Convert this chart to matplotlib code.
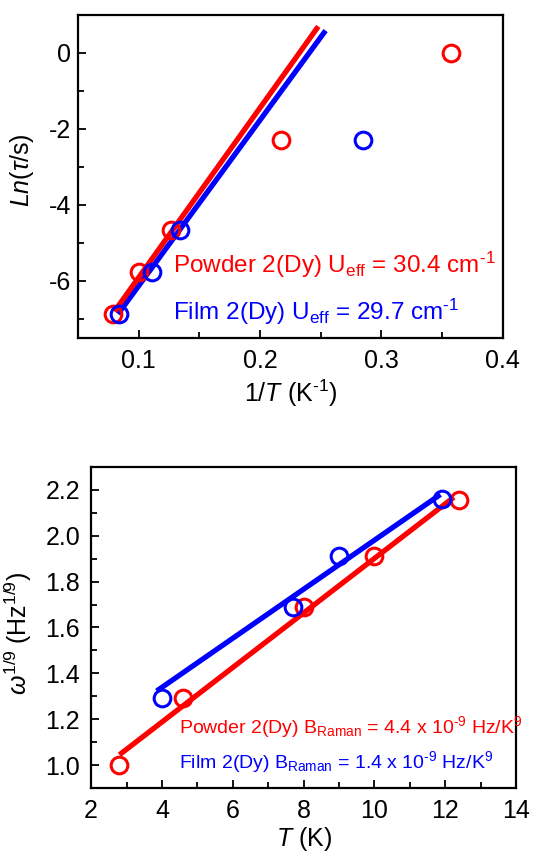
import matplotlib.pyplot as plt
from matplotlib.ticker import MultipleLocator

plt.rcParams['font.family'] = ['Liberation Sans', 'DejaVu Sans']
plt.rcParams['mathtext.fontset'] = 'custom'
plt.rcParams['mathtext.rm'] = 'Liberation Sans'
plt.rcParams['mathtext.it'] = 'Liberation Sans:italic'
plt.rcParams['axes.unicode_minus'] = False

RED = '#ff0000'
BLUE = '#0000ff'

# --- Arrhenius plot data (top) ---
powder_invT = [0.079, 0.100, 0.127, 0.217, 0.357]
powder_lntau = [-6.87, -5.77, -4.67, -2.29, 0.0]
film_invT = [0.084, 0.111, 0.134, 0.285]
film_lntau = [-6.87, -5.77, -4.67, -2.29]
powder_fit_x = [0.080, 0.248]
powder_fit_y = [-6.80, 0.70]
film_fit_x = [0.083, 0.254]
film_fit_y = [-6.87, 0.59]

# --- Raman plot data (bottom) ---
powder_T = [2.8, 4.6, 8.0, 10.0, 12.4]
powder_w = [1.00, 1.294, 1.69, 1.91, 2.157]
film_T = [4.0, 7.7, 9.0, 11.9]
film_w = [1.294, 1.69, 1.913, 2.16]
powder_raman_x = [2.8, 12.24]
powder_raman_y = [1.045, 2.168]
film_raman_x = [3.85, 11.86]
film_raman_y = [1.323, 2.18]

fig = plt.figure(figsize=(5.36, 8.52), dpi=100)
ax1 = fig.add_axes([0.1455, 0.6033, 0.7925, 0.3791])
ax2 = fig.add_axes([0.170, 0.0751, 0.793, 0.3768])

mk = dict(marker='o', ms=12, mfc='none', mew=2.2, ls='none')
neg1 = r'$^{\text{-1}}$'
neg9 = r'$^{\text{-9}}$'

ax1.plot(film_fit_x, film_fit_y, color=BLUE, lw=3.8, solid_capstyle='butt')
ax1.plot(powder_fit_x, powder_fit_y, color=RED, lw=3.8, solid_capstyle='butt')
ax1.plot(powder_invT, powder_lntau, mec=RED, **mk)
ax1.plot(film_invT, film_lntau, mec=BLUE, **mk)
ax1.set_xlim(0.05, 0.4)
ax1.set_ylim(-7.5, 1)
ax1.xaxis.set_major_locator(MultipleLocator(0.1))
ax1.xaxis.set_minor_locator(MultipleLocator(0.05))
ax1.yaxis.set_major_locator(MultipleLocator(2))
ax1.yaxis.set_minor_locator(MultipleLocator(1))
ax1.set_xlabel(r'$\it{1/T}$ (K' + neg1 + ')', fontsize=18, labelpad=3)
ax1.set_ylabel(r'$\it{Ln}$($\tau$/s)', fontsize=18)
ax1.yaxis.set_label_coords(-0.10, 0.52)
ax1.text(0.224, 0.20, r'Powder 2(Dy) U$_{\rm eff}$ = 30.4 cm' + neg1, color=RED,
         fontsize=17.5, transform=ax1.transAxes)
ax1.text(0.224, 0.056, r'Film 2(Dy) U$_{\rm eff}$ = 29.7 cm' + neg1, color=BLUE,
         fontsize=17.5, transform=ax1.transAxes)

ax2.plot(powder_raman_x, powder_raman_y, color=RED, lw=3.8, solid_capstyle='butt')
ax2.plot(film_raman_x, film_raman_y, color=BLUE, lw=3.8, solid_capstyle='butt')
ax2.plot(powder_T, powder_w, mec=RED, **mk)
ax2.plot(film_T, film_w, mec=BLUE, **mk)
ax2.set_xlim(2, 14)
ax2.set_ylim(0.9, 2.3)
ax2.xaxis.set_major_locator(MultipleLocator(2))
ax2.xaxis.set_minor_locator(MultipleLocator(1))
ax2.yaxis.set_major_locator(MultipleLocator(0.2))
ax2.yaxis.set_minor_locator(MultipleLocator(0.1))
ax2.yaxis.set_major_formatter(plt.FormatStrFormatter('%.1f'))
ax2.set_xlabel(r'$\it{T}$ (K)', fontsize=18, labelpad=1)
ax2.set_ylabel(r'$\it{\omega}^{\it 1/9}$ (Hz$^{\it 1/9}$)', fontsize=18)
ax2.yaxis.set_label_coords(-0.135, 0.48)
ax2.text(0.207, 0.171, r'Powder 2(Dy) B$_{\rm Raman}$ = 4.4 x 10' + neg9 + ' Hz/K$^{9}$',
         color=RED, fontsize=14, transform=ax2.transAxes)
ax2.text(0.207, 0.062, r'Film 2(Dy) B$_{\rm Raman}$ = 1.4 x 10' + neg9 + ' Hz/K$^{9}$',
         color=BLUE, fontsize=14, transform=ax2.transAxes)

for ax in (ax1, ax2):
    for s in ax.spines.values():
        s.set_linewidth(1.6)
    ax.tick_params(which='both', direction='in', top=False, right=False,
                   labelsize=18, width=1.3)
    ax.tick_params(which='major', length=6)
    ax.tick_params(which='minor', length=4)
ax1.tick_params(axis='y', pad=5)
ax1.tick_params(axis='x', pad=8)
ax2.tick_params(axis='y', pad=8)
ax2.tick_params(axis='x', pad=8)

fig.savefig('out.png', dpi=100)
